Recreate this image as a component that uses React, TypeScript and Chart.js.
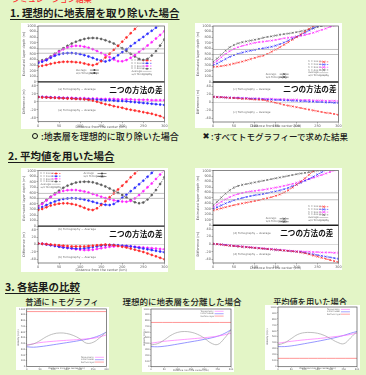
import React, { useEffect, useRef } from "react";
import { Chart, registerables } from "chart.js";

Chart.register(...registerables);
Chart.defaults.font.family = "'DejaVu Sans', 'Noto Sans', sans-serif";
Chart.defaults.color = "#5a5a5a";

// ---------- shared axis values ----------
const DIST = [0, 10, 20, 30, 40, 50, 60, 70, 80, 90, 100, 110, 120, 130, 140, 150, 160, 170, 180, 190, 200, 210, 220, 230, 240, 250, 260, 270, 280, 290, 300];
const X_TICKS = [0, 50, 100, 150, 200, 250, 300];
const UPPER_TICKS = [0, 100, 200, 300, 400, 500, 600, 700, 800, 900, 1000];
const LOWER_TICKS = [-40, -20, 0, 20, 40];
const X_TITLE = "Distance from the center (km)";
const UPPER_TITLE = "Estimated layer depth (m)";
const LOWER_TITLE = "Difference (m)";
const CASE_LABELS = ["h = 100 m", "h = 200 m", "h = 300 m", "h = 400 m"];
const REF_LABELS = ["Average", "w/o Tomography"];

// ---------- 1. ideal removal of the surface layer ----------
const P1_RED = [273, 288, 303, 322, 339, 350, 358, 360, 358, 352, 345, 328, 309, 297, 320, 370, 435, 505, 575, 645, 720, 795, 870, 945, 1020, null, null, null, null, null, null];
const P1_BLUE = [333, 360, 388, 430, 467, 492, 509, 514, 515, 508, 497, 478, 455, 428, 400, 380, 364, 385, 425, 475, 530, 585, 640, 695, 750, 805, 860, 915, 970, 1025, null];
const P1_MAGENTA = [345, 368, 394, 440, 491, 540, 582, 614, 636, 645, 642, 630, 612, 585, 552, 515, 479, 440, 400, 370, 368, 390, 430, 480, 535, 590, 650, 710, 775, 840, 905];
const P1_BLACK = [364, 385, 406, 455, 503, 552, 600, 645, 685, 718, 745, 768, 782, 786, 782, 768, 745, 718, 685, 645, 600, 553, 503, 455, 410, 392, 410, 470, 550, 650, 760];
const P1_REFS = [590, 512];
const P1_DIFF_RED = [12, 11, 11, 10, 10, 9, 9, 8, 8, 7, 7, 6, 5, 3, 0, -3, -6, -8, -11, -13, -15, -18, -20, -22, -24, -26, -28, -30, -33, -36, -40];
const P1_DIFF_BLUE = [12, 12, 11, 11, 10, 10, 9, 9, 8, 8, 7, 7, 6, 6, 5, 5, 4, 4, 3, 2, 2, 1, 0, -1, -2, -3, -4, -5, -6, -7, -8];
const P1_DIFF_MAGENTA = [12, 12, 12, 11, 11, 11, 10, 10, 10, 9, 9, 9, 8, 8, 8, 7, 7, 7, 7, 6, 6, 6, 6, 5, 5, 5, 5, 4, 4, 4, 4];

const P2_RED = [269, 275, 284, 296, 311, 329, 347, 365, 386, 410, 431, 455, 470, 500, 540, 580, 620, 665, 710, 755, 800, 850, 900, 950, 1000, 1050, null, null, null, null, null];
const P2_BLUE = [299, 330, 370, 410, 450, 480, 505, 525, 545, 560, 575, 590, 600, 615, 630, 650, 675, 705, 740, 775, 810, 845, 880, 920, 960, 1000, 1040, null, null, null, null];
const P2_MAGENTA = [329, 380, 440, 500, 550, 590, 620, 645, 665, 685, 700, 712, 720, 730, 740, 752, 765, 780, 790, 800, 810, 825, 840, 860, 880, 905, 930, 955, 985, 1010, null];
const P2_BLACK = [359, 420, 490, 560, 620, 660, 690, 710, 725, 740, 755, 770, 790, 805, 815, 830, 845, 855, 865, 878, 890, 905, 920, 940, 960, 980, 1000, 1020, null, null, null];
const P2_REFS = [581, 491];
const P2_DIFF_RED = [13, 12, 12, 11, 10, 10, 9, 8, 8, 7, 6, 6, 5, 3, 1, -2, -4, -7, -9, -11, -13, -15, -17, -19, -21, -23, -25, -27, -28, -30, -32];
const P2_DIFF_BLUE = [13, 12, 12, 11, 11, 10, 10, 9, 9, 8, 8, 7, 7, 6, 6, 5, 5, 4, 4, 3, 3, 2, 2, 1, 1, 0, 0, -1, -1, -2, -2];
const P2_DIFF_MAGENTA = [13, 13, 12, 12, 11, 11, 11, 10, 10, 9, 9, 9, 8, 8, 8, 7, 7, 7, 6, 6, 6, 5, 5, 5, 4, 4, 4, 3, 3, 3, 2];

// ---------- 2. using the average value ----------
const P3_RED = [289, 310, 340, 370, 390, 405, 410, 410, 400, 385, 360, 330, 300, 290, 320, 380, 450, 520, 590, 660, 730, 800, 880, 950, 1020, null, null, null, null, null, null];
const P3_BLUE = [319, 345, 380, 415, 445, 470, 488, 498, 502, 500, 492, 478, 460, 440, 418, 398, 385, 380, 400, 450, 510, 570, 630, 690, 755, 820, 890, 960, 1030, null, null];
const P3_MAGENTA = [350, 400, 460, 520, 570, 608, 635, 648, 652, 650, 640, 625, 605, 580, 555, 530, 505, 485, 465, 452, 443, 440, 455, 500, 560, 630, 700, 770, 850, 930, 1010];
const P3_BLACK = [360, 410, 470, 530, 590, 640, 690, 730, 760, 785, 798, 802, 800, 790, 770, 745, 715, 680, 640, 600, 560, 515, 470, 430, 412, 425, 480, 560, 650, 760, 880];
const P3_REFS = [590, 500];
const P3_DIFF_RED = [3, 2, 1, 0, -1, -2, -3, -4, -5, -5, -5, -5, -4, -3, -2, -1, 0, -1, -2, -4, -6, -8, -11, -14, -17, -20, -24, -28, -32, -36, -40];
const P3_DIFF_BLUE = [3, 2, 0, -2, -4, -6, -8, -9, -10, -11, -11, -10, -9, -7, -5, -3, -2, -1, -1, -2, -3, -4, -5, -7, -9, -11, -13, -15, -17, -19, -21];
const P3_DIFF_MAGENTA = [3, 2, 1, -1, -3, -5, -7, -9, -11, -13, -14, -15, -15, -14, -12, -10, -8, -6, -5, -4, -4, -4, -5, -6, -7, -8, -9, -10, -11, -12, -13];

const P4_RED = [273, 290, 310, 330, 350, 368, 385, 400, 415, 430, 445, 460, 478, 495, 515, 540, 565, 600, 640, 690, 745, 800, 860, 925, 995, 1060, null, null, null, null, null];
const P4_BLUE = [303, 330, 365, 400, 430, 458, 480, 500, 518, 535, 550, 562, 575, 590, 605, 620, 638, 660, 685, 715, 745, 780, 815, 850, 890, 930, 970, 1010, null, null, null];
const P4_MAGENTA = [333, 380, 430, 475, 515, 548, 572, 592, 608, 620, 630, 640, 650, 662, 675, 690, 705, 722, 740, 758, 778, 800, 822, 845, 870, 895, 920, 948, 975, 1005, null];
const P4_BLACK = [364, 430, 510, 580, 640, 690, 720, 740, 755, 770, 785, 800, 815, 830, 845, 860, 875, 890, 905, 920, 935, 948, 960, 972, 985, 1000, 1015, null, null, null, null];
const P4_REFS = [594, 467];
const P4_DIFF_RED = [1, 0, -1, -3, -4, -5, -6, -7, -8, -9, -10, -11, -12, -13, -14, -15, -16, -17, -18, -19, -20, -22, -24, -27, -30, -33, -36, -39, -42, -45, -48];
const P4_DIFF_BLUE = [1, 0, -1, -2, -4, -5, -6, -7, -8, -9, -10, -11, -12, -13, -14, -15, -16, -17, -18, -19, -20, -21, -23, -25, -27, -29, -31, -33, -35, -37, -39];
const P4_DIFF_MAGENTA = [1, 0, -1, -2, -3, -4, -5, -6, -7, -8, -9, -10, -11, -12, -13, -14, -15, -16, -17, -18, -19, -19, -20, -20, -21, -21, -22, -22, -22, -23, -23];

// ---------- 3. comparison of the results ----------
const CMP_X = [0, 25, 50, 75, 100, 125, 150, 175, 200, 225, 250, 275, 300];
const CMP_TICKS_Y = [0, 100, 200, 300, 400, 500, 600, 700, 800, 900, 1000];
const CMP_LABELS = ["Tomography", "Initial model", "Surface layer"];
const CMP_TITLE_Y = "Velocity (m/s)";

const C1_TRUE = [371, 392, 450, 520, 566, 583, 574, 540, 482, 405, 420, 500, 600];
const C1_BLUE = [343, 335, 345, 360, 378, 396, 414, 432, 452, 472, 500, 540, 600];
const C1_MAGENTA = [371, 395, 415, 428, 438, 447, 455, 462, 470, 480, 490, 515, 550];
const C1_LAYER = 954;

const C2_TRUE = [378, 400, 465, 545, 595, 610, 598, 560, 495, 410, 385, 490, 640];
const C2_BLUE = [349, 345, 355, 372, 392, 412, 432, 452, 474, 498, 528, 575, 640];
const C2_MAGENTA = [407, 425, 440, 452, 462, 472, 482, 492, 503, 515, 530, 552, 581];
const C2_LAYER = 767;

const C3_TRUE = [365, 400, 470, 540, 570, 573, 560, 525, 470, 410, 385, 480, 590];
const C3_BLUE = [337, 337, 348, 365, 385, 405, 425, 447, 470, 495, 525, 560, 590];
const C3_MAGENTA = [393, 410, 425, 438, 450, 460, 470, 482, 495, 508, 522, 540, 562];
const C3_LAYER = 140;

// ---------- styles ----------
const BG = "#e3f5c6";
const RED = "#ff2626";
const BLUE = "#2c2cff";
const MAGENTA = "#ff22ff";
const BLACK = "#5c5c5c";
const REF_GRAY = "#a8a8a8";
const JP = "'Noto Sans CJK JP', 'Noto Sans CJK SC', sans-serif";

type Mark = "circle" | "crossRot" | "none";
type KeyRow = { label: string; color: string; mark: Mark; dashed: boolean };
type KeyBlock = { axis: string; fx: number; fy: number; textW: number; rowH: number; size: number; rows: KeyRow[] };
type Caption = { axis: string; fx: number; fy: number; text: string; font: string; color: string; align: CanvasTextAlign };

function drawMark(ctx: CanvasRenderingContext2D, mark: Mark, x: number, y: number, color: string) {
  if (mark === "none") return;
  ctx.strokeStyle = color;
  ctx.fillStyle = color;
  ctx.lineWidth = 0.6;
  ctx.beginPath();
  if (mark === "circle") {
    ctx.arc(x, y, 1, 0, Math.PI * 2);
    ctx.fill();
  } else {
    ctx.moveTo(x - 1.2, y - 1.2);
    ctx.lineTo(x + 1.2, y + 1.2);
    ctx.moveTo(x + 1.2, y - 1.2);
    ctx.lineTo(x - 1.2, y + 1.2);
    ctx.stroke();
  }
}

// Plot frame plus the heavy rule that splits the two stacked plots.
function framePlugin(sepAxis?: string) {
  return {
    id: "frame",
    afterDatasetsDraw(chart: any) {
      const { ctx, chartArea: a } = chart;
      ctx.save();
      ctx.strokeStyle = "#555";
      ctx.lineWidth = 0.7;
      ctx.strokeRect(a.left, a.top, a.right - a.left, a.bottom - a.top);
      if (sepAxis) {
        const s = chart.scales[sepAxis];
        ctx.strokeStyle = "#1e1e1e";
        ctx.lineWidth = 1.4;
        ctx.beginPath();
        ctx.moveTo(a.left, s.bottom);
        ctx.lineTo(a.right, s.bottom);
        ctx.stroke();
      }
      ctx.restore();
    },
  };
}

// Small in-plot keys and captions, placed relative to one y-axis band.
function notesPlugin(blocks: KeyBlock[], captions: Caption[]) {
  return {
    id: "notes",
    afterDatasetsDraw(chart: any) {
      const { ctx } = chart;
      const xs = chart.scales.x;
      const band = (id: string) => {
        const s = chart.scales[id];
        return { l: xs.left, w: xs.right - xs.left, t: s.top, h: s.bottom - s.top };
      };
      ctx.save();
      ctx.textBaseline = "middle";
      for (const b of blocks) {
        const a = band(b.axis);
        const x0 = a.l + a.w * b.fx;
        let y = a.t + a.h * b.fy;
        for (const r of b.rows) {
          ctx.font = `${b.size}px 'DejaVu Sans'`;
          ctx.fillStyle = "#6a6a6a";
          ctx.textAlign = "left";
          ctx.fillText(r.label, x0, y);
          const sx = x0 + b.textW;
          ctx.strokeStyle = r.color;
          ctx.lineWidth = 0.6;
          ctx.setLineDash(r.dashed ? [1.5, 1] : []);
          ctx.beginPath();
          ctx.moveTo(sx, y);
          ctx.lineTo(sx + 9, y);
          ctx.stroke();
          ctx.setLineDash([]);
          drawMark(ctx, r.mark, sx + 4.5, y, r.color);
          y += b.rowH;
        }
      }
      for (const c of captions) {
        const a = band(c.axis);
        ctx.font = c.font;
        ctx.fillStyle = c.color;
        ctx.textAlign = c.align;
        ctx.fillText(c.text, a.l + a.w * c.fx, a.t + a.h * c.fy);
      }
      ctx.restore();
    },
  };
}

type Layout = { axisW: number; padTop: number; padRight: number; axisH: number };

type ProfileSpec = {
  upper: (number | null)[][];
  refs: number[];
  lower: (number | null)[][];
  mark: Mark;
  weight: number;
  layout: Layout;
  keys: KeyBlock[];
  captions: Caption[];
};

const ticksFrom = (vals: number[]) => (s: any) => {
  s.ticks = vals.map((value) => ({ value }));
};
const plainLabel = (v: any) => String(v);

function profileConfig(p: ProfileSpec): any {
  const colors = [RED, BLUE, MAGENTA, BLACK];
  const pts = (s: (number | null)[]) => DIST.map((x, i) => ({ x, y: s[i] }));
  const curve = (s: (number | null)[], color: string, axis: string) => ({
    data: pts(s),
    yAxisID: axis,
    borderColor: color,
    backgroundColor: color,
    borderWidth: 0.7,
    borderDash: [2, 1.2],
    pointStyle: p.mark,
    pointRadius: p.mark === "circle" ? 1 : 1.4,
    pointBorderWidth: 0.6,
    pointBorderColor: color,
    pointBackgroundColor: color,
    tension: 0,
  });
  const refLine = (v: number) => ({
    data: [
      { x: DIST[0], y: v },
      { x: DIST[DIST.length - 1], y: v },
    ],
    yAxisID: "up",
    borderColor: REF_GRAY,
    borderWidth: 0.7,
    pointRadius: 0,
  });
  const tickFont = { size: 3.4 };
  const L = p.layout;
  const yAxis = (stackWeight: number, min: number, max: number, ticks: number[], title: string, zeroLine: boolean) => ({
    type: "linear",
    position: "left",
    stack: "panel",
    stackWeight,
    min,
    max,
    afterBuildTicks: ticksFrom(ticks),
    ticks: { font: tickFont, padding: 0.6, autoSkip: false, callback: plainLabel },
    grid: {
      drawOnChartArea: zeroLine,
      color: (c: any) => (zeroLine && c.tick && c.tick.value === 0 ? "#b4b4b4" : "rgba(0,0,0,0)"),
      tickColor: "#666",
      tickLength: 1.5,
      lineWidth: 0.5,
    },
    border: { display: false },
    title: { display: true, text: title, font: tickFont, padding: 0 },
    afterFit: (s: any) => {
      s.width = L.axisW;
    },
  });
  return {
    type: "line",
    data: {
      datasets: [
        refLine(p.refs[0]),
        refLine(p.refs[1]),
        ...p.upper.map((s, i) => curve(s, colors[i], "up")),
        ...p.lower.map((s, i) => curve(s, colors[i], "lo")),
      ],
    },
    options: {
      animation: false,
      responsive: false,
      maintainAspectRatio: false,
      events: [],
      layout: { autoPadding: false, padding: { left: 1, top: L.padTop, right: L.padRight, bottom: 0 } },
      plugins: { legend: { display: false }, tooltip: { enabled: false } },
      scales: {
        x: {
          type: "linear",
          min: 0,
          max: 300,
          afterBuildTicks: ticksFrom(X_TICKS),
          ticks: { font: tickFont, padding: 0.4, maxRotation: 0, autoSkip: false, callback: plainLabel },
          grid: { drawOnChartArea: false, tickLength: 1.5, color: "#666", lineWidth: 0.5 },
          border: { display: false },
          title: { display: true, text: X_TITLE, font: tickFont, padding: 0 },
          afterFit: (s: any) => {
            s.height = L.axisH;
          },
        },
        lo: yAxis(1, -50, 50, LOWER_TICKS, LOWER_TITLE, true),
        up: yAxis(p.weight, 0, 1000, UPPER_TICKS, UPPER_TITLE, false),
      },
    },
    plugins: [framePlugin("up"), notesPlugin(p.keys, p.captions)],
  };
}

type CompareSpec = { truth: number[]; blue: number[]; magenta: number[]; layer: number; layout: Layout; key: KeyBlock };

function compareConfig(c: CompareSpec): any {
  const pts = (s: number[]) => CMP_X.map((x, i) => ({ x, y: s[i] }));
  const line = (data: any[], color: string) => ({
    data,
    borderColor: color,
    borderWidth: 0.7,
    pointRadius: 0,
    tension: 0.4,
  });
  const tickFont = { size: 2.4 };
  const L = c.layout;
  return {
    type: "line",
    data: {
      datasets: [
        line(
          [
            { x: CMP_X[0], y: c.layer },
            { x: CMP_X[CMP_X.length - 1], y: c.layer },
          ],
          "#ff6a6a"
        ),
        line(pts(c.truth), "#a2a2a2"),
        line(pts(c.magenta), "#ff70ff"),
        line(pts(c.blue), "#6a6aff"),
      ],
    },
    options: {
      animation: false,
      responsive: false,
      maintainAspectRatio: false,
      events: [],
      layout: { autoPadding: false, padding: { left: 1, top: L.padTop, right: L.padRight, bottom: 0 } },
      plugins: { legend: { display: false }, tooltip: { enabled: false } },
      scales: {
        x: {
          type: "linear",
          min: 0,
          max: 300,
          afterBuildTicks: ticksFrom(X_TICKS),
          ticks: { font: tickFont, padding: 0.3, maxRotation: 0, autoSkip: false, callback: plainLabel },
          grid: { drawOnChartArea: false, tickLength: 1, color: "#777", lineWidth: 0.4 },
          border: { display: false },
          title: { display: true, text: X_TITLE, font: tickFont, padding: 0 },
          afterFit: (s: any) => {
            s.height = L.axisH;
          },
        },
        y: {
          type: "linear",
          min: 0,
          max: 1000,
          afterBuildTicks: ticksFrom(CMP_TICKS_Y),
          ticks: { font: tickFont, padding: 0.5, autoSkip: false, callback: plainLabel },
          grid: { drawOnChartArea: false, tickLength: 1, color: "#777", lineWidth: 0.4 },
          border: { display: false },
          title: { display: true, text: CMP_TITLE_Y, font: tickFont, padding: 0 },
          afterFit: (s: any) => {
            s.width = L.axisW;
          },
        },
      },
    },
    plugins: [framePlugin(), notesPlugin([c.key], [])],
  };
}

function ChartBox({ left, top, width, height, config }: { left: number; top: number; width: number; height: number; config: () => any }) {
  const ref = useRef<HTMLCanvasElement | null>(null);
  useEffect(() => {
    const chart = new Chart(ref.current as HTMLCanvasElement, config());
    return () => chart.destroy();
  }, []);
  return (
    <div style={{ position: "absolute", left, top, width, height, background: "#fff" }}>
      <canvas ref={ref} width={width} height={height} style={{ display: "block", width, height }} />
    </div>
  );
}

// ---------- in-plot keys ----------
const caseRows = (mark: Mark): KeyRow[] => [
  { label: CASE_LABELS[0], color: RED, mark, dashed: true },
  { label: CASE_LABELS[1], color: BLUE, mark, dashed: true },
  { label: CASE_LABELS[2], color: MAGENTA, mark, dashed: true },
  { label: CASE_LABELS[3], color: BLACK, mark, dashed: true },
];
const refRows: KeyRow[] = [
  { label: REF_LABELS[0], color: REF_GRAY, mark: "none", dashed: false },
  { label: REF_LABELS[1], color: REF_GRAY, mark: "none", dashed: false },
];
const centerRows = (mark: Mark): KeyRow[] => [
  { label: REF_LABELS[0], color: "#444", mark, dashed: false },
  { label: REF_LABELS[1], color: "#444", mark, dashed: false },
];

const tinyFont = "2.8px 'DejaVu Sans'";
const diffFont = `bold 7.6px ${JP}`;
const diffCaptions = (label: string, upY: number, lowY: number, headY: number, headX: number): Caption[] => [
  { axis: "lo", fx: 0.16, fy: upY, text: `${label} Tomography − Average`, font: tinyFont, color: "#666", align: "left" },
  { axis: "lo", fx: 0.16, fy: lowY, text: `${label} Tomography − Average`, font: tinyFont, color: "#666", align: "left" },
  { axis: "lo", fx: headX, fy: headY, text: "二つの方法の差", font: diffFont, color: "#111", align: "right" },
];

const PANEL1: ProfileSpec = {
  upper: [P1_RED, P1_BLUE, P1_MAGENTA, P1_BLACK],
  refs: P1_REFS,
  lower: [P1_DIFF_RED, P1_DIFF_BLUE, P1_DIFF_MAGENTA],
  mark: "circle",
  weight: 1.4,
  layout: { axisW: 16, padTop: 3, padRight: 1.3, axisH: 7.3 },
  keys: [
    { axis: "up", fx: 0.74, fy: 0.62, textW: 11, rowH: 2.7, size: 2.5, rows: [...caseRows("circle"), ...refRows] },
    { axis: "up", fx: 0.3, fy: 0.79, textW: 14, rowH: 3, size: 2.6, rows: centerRows("circle") },
  ],
  captions: diffCaptions("(a)", 0.18, 0.72, 0.2, 0.985),
};

const PANEL2: ProfileSpec = {
  upper: [P2_RED, P2_BLUE, P2_MAGENTA, P2_BLACK],
  refs: P2_REFS,
  lower: [P2_DIFF_RED, P2_DIFF_BLUE, P2_DIFF_MAGENTA],
  mark: "crossRot",
  weight: 1.4,
  layout: { axisW: 17, padTop: 3, padRight: 1, axisH: 6 },
  keys: [
    { axis: "up", fx: 0.76, fy: 0.64, textW: 11, rowH: 2.7, size: 2.5, rows: [...caseRows("crossRot"), ...refRows] },
    { axis: "up", fx: 0.42, fy: 0.86, textW: 14, rowH: 3, size: 2.6, rows: centerRows("crossRot") },
  ],
  captions: diffCaptions("(c)", 0.18, 0.75, 0.19, 0.985),
};

const PANEL3: ProfileSpec = {
  upper: [P3_RED, P3_BLUE, P3_MAGENTA, P3_BLACK],
  refs: P3_REFS,
  lower: [P3_DIFF_RED, P3_DIFF_BLUE, P3_DIFF_MAGENTA],
  mark: "circle",
  weight: 1.5,
  layout: { axisW: 16, padTop: 2.7, padRight: 1, axisH: 9 },
  keys: [
    { axis: "up", fx: 0.02, fy: 0.05, textW: 11, rowH: 2.7, size: 2.5, rows: [...caseRows("circle"), ...refRows] },
    { axis: "up", fx: 0.36, fy: 0.05, textW: 14, rowH: 3, size: 2.6, rows: centerRows("circle") },
  ],
  captions: diffCaptions("(b)", 0.1, 0.84, 0.21, 0.985),
};

const PANEL4: ProfileSpec = {
  upper: [P4_RED, P4_BLUE, P4_MAGENTA, P4_BLACK],
  refs: P4_REFS,
  lower: [P4_DIFF_RED, P4_DIFF_BLUE, P4_DIFF_MAGENTA],
  mark: "crossRot",
  weight: 1.45,
  layout: { axisW: 17, padTop: 2, padRight: 2, axisH: 7 },
  keys: [
    { axis: "up", fx: 0.76, fy: 0.66, textW: 11, rowH: 2.7, size: 2.5, rows: [...caseRows("crossRot"), ...refRows] },
    { axis: "up", fx: 0.42, fy: 0.88, textW: 14, rowH: 3, size: 2.6, rows: centerRows("crossRot") },
  ],
  captions: diffCaptions("(d)", 0.2, 0.78, 0.21, 0.96),
};

const cmpRows: KeyRow[] = [
  { label: CMP_LABELS[0], color: "#ff70ff", mark: "none", dashed: false },
  { label: CMP_LABELS[1], color: "#6a6aff", mark: "none", dashed: false },
  { label: CMP_LABELS[2], color: "#ff6a6a", mark: "none", dashed: false },
];

const CMP1: CompareSpec = {
  truth: C1_TRUE,
  blue: C1_BLUE,
  magenta: C1_MAGENTA,
  layer: C1_LAYER,
  layout: { axisW: 9.7, padTop: 1.3, padRight: 2.3, axisH: 3.5 },
  key: { axis: "y", fx: 0.68, fy: 0.84, textW: 14, rowH: 2.4, size: 2.1, rows: cmpRows },
};
const CMP2: CompareSpec = {
  truth: C2_TRUE,
  blue: C2_BLUE,
  magenta: C2_MAGENTA,
  layer: C2_LAYER,
  layout: { axisW: 8, padTop: 2, padRight: 3, axisH: 5.3 },
  key: { axis: "y", fx: 0.62, fy: 0.04, textW: 14, rowH: 2.4, size: 2.1, rows: cmpRows },
};
const CMP3: CompareSpec = {
  truth: C3_TRUE,
  blue: C3_BLUE,
  magenta: C3_MAGENTA,
  layer: C3_LAYER,
  layout: { axisW: 12, padTop: 2, padRight: 3, axisH: 3.3 },
  key: { axis: "y", fx: 0.62, fy: 0.04, textW: 14, rowH: 2.4, size: 2.1, rows: cmpRows },
};

const heading: React.CSSProperties = {
  position: "absolute",
  fontFamily: JP,
  fontWeight: 700,
  fontSize: 10.5,
  lineHeight: 1,
  color: "#1a1a1a",
  textDecoration: "underline",
  textUnderlineOffset: 1.5,
  whiteSpace: "nowrap",
};
const note: React.CSSProperties = {
  position: "absolute",
  fontFamily: JP,
  fontWeight: 500,
  lineHeight: 1,
  color: "#1a1a1a",
  whiteSpace: "nowrap",
};

export default function App() {
  return (
    <div
      style={{
        position: "fixed",
        left: 0,
        top: 0,
        width: 366,
        height: 375,
        overflow: "hidden",
        background: BG,
      }}
    >
      <div style={{ ...note, left: 4, top: -5.5, fontSize: 8, color: "#ff3030" }}>・シミュレーション結果</div>

      <div style={{ ...heading, left: 10, top: 7.5 }}>1. 理想的に地表層を取り除いた場合</div>
      <ChartBox left={21} top={23} width={147} height={106} config={() => profileConfig(PANEL1)} />
      <ChartBox left={195} top={23} width={147} height={105} config={() => profileConfig(PANEL2)} />

      <div
        style={{
          position: "absolute",
          left: 31.5,
          top: 132.5,
          width: 4,
          height: 4,
          borderRadius: "50%",
          border: "1.8px solid #111",
        }}
      />
      <div style={{ ...note, left: 41, top: 131.5, fontSize: 9 }}>:地表層を理想的に取り除いた場合</div>
      <div style={{ ...note, left: 202.5, top: 131.5, fontSize: 8.5, fontFamily: "'DejaVu Sans'" }}>✖</div>
      <div style={{ ...note, left: 211, top: 131.5, fontSize: 8.5 }}>:すべてトモグラフィーで求めた結果</div>

      <div style={{ ...heading, left: 8, top: 150.5 }}>2. 平均値を用いた場合</div>
      <ChartBox left={21} top={168} width={147} height={104} config={() => profileConfig(PANEL3)} />
      <ChartBox left={195} top={168} width={147} height={102} config={() => profileConfig(PANEL4)} />

      <div style={{ ...heading, left: 5, top: 282 }}>3. 各結果の比較</div>
      <div style={{ ...note, left: 12, width: 100, top: 297, fontSize: 8.2, textAlign: "center" }}>普通にトモグラフィ</div>
      <div style={{ ...note, left: 122, width: 120, top: 297, fontSize: 8.5, textAlign: "center" }}>理想的に地表層を分離した場合</div>
      <div style={{ ...note, left: 260, width: 100, top: 297, fontSize: 8.2, textAlign: "center" }}>平均値を用いた場合</div>

      <ChartBox left={16} top={307} width={93} height={63} config={() => compareConfig(CMP1)} />
      <ChartBox left={142} top={307} width={92} height={65} config={() => compareConfig(CMP2)} />
      <ChartBox left={265} top={305} width={95} height={65} config={() => compareConfig(CMP3)} />
    </div>
  );
}
